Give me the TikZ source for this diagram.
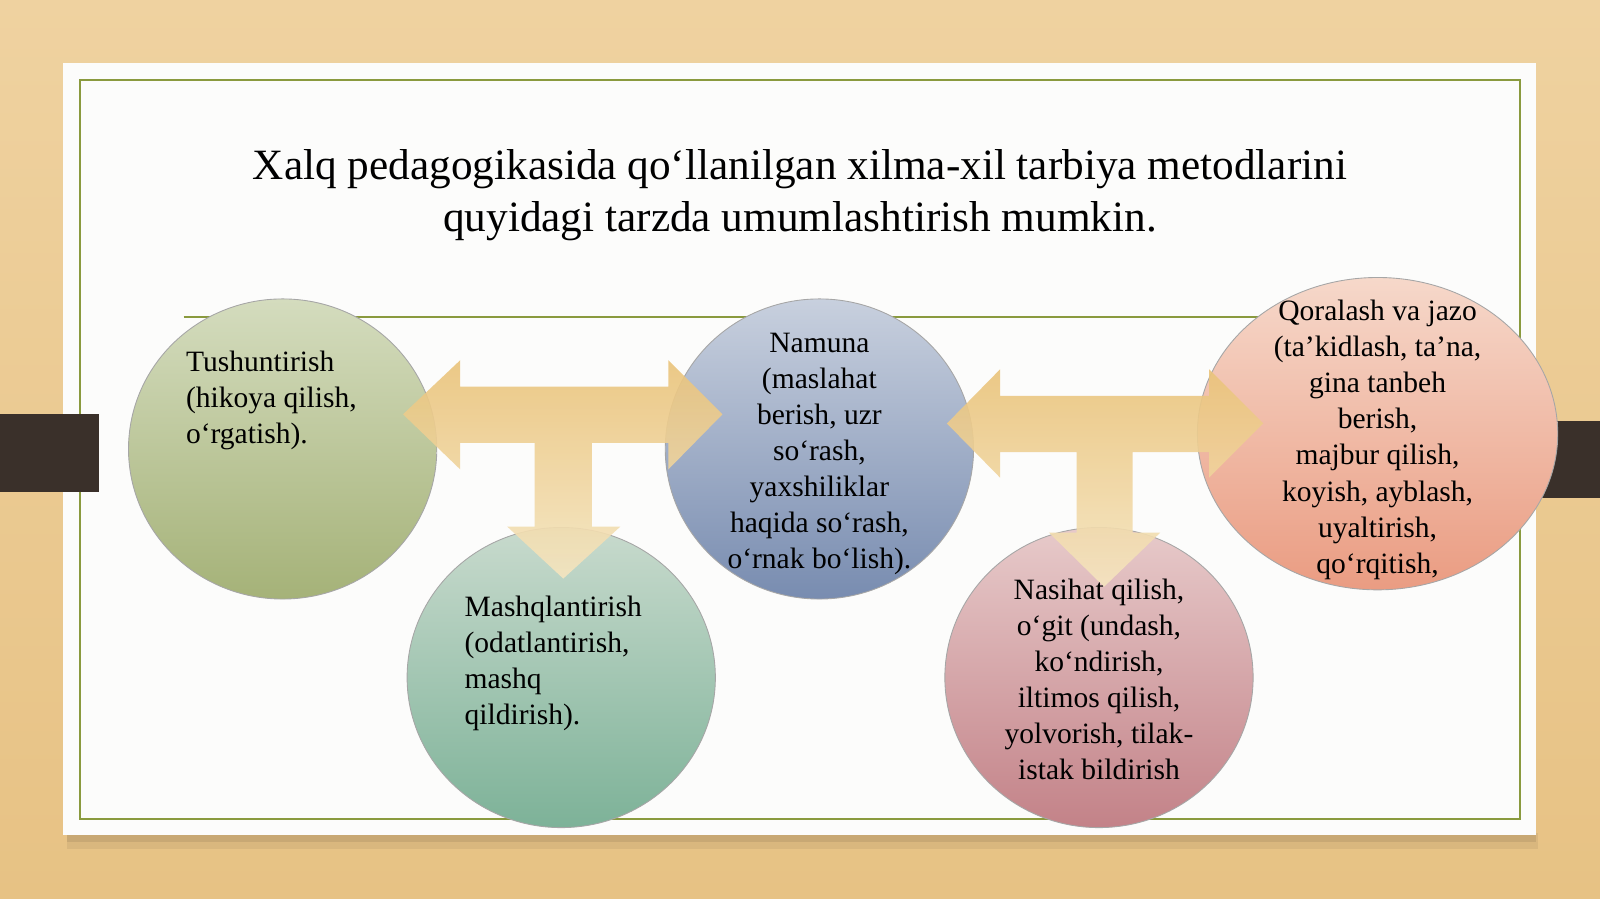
\documentclass[tikz,border=0pt]{standalone}
\usepackage{fontspec}
\setmainfont{Liberation Serif}
\usetikzlibrary{positioning,shapes.geometric}

\definecolor{woodtan}{RGB}{231,194,132}
\definecolor{woodlight}{RGB}{239,210,160}
\definecolor{cardwhite}{RGB}{252,252,251}
\definecolor{frameolive}{RGB}{138,154,62}
\definecolor{darkbar}{RGB}{58,48,42}
\definecolor{arrowtop}{RGB}{234,195,122}
\definecolor{arrowbot}{RGB}{245,229,192}

\begin{document}
\begin{tikzpicture}[x=0.0204082cm, y=-0.0204082cm,
roundnode/.style={ellipse, draw=black!35, line width=0.5pt, minimum width=6.163cm, minimum height=6.0cm, inner sep=0pt},
circtext/.style={inner sep=0pt, font=\fontsize{16.8}{20.5}\selectfont},
blockarrow/.style={top color=arrowtop, bottom color=arrowbot, opacity=0.9}
]
    \useasboundingbox (0,0) rectangle (1568,881);

    %Background
    \shade[top color=woodlight, bottom color=woodtan] (0,0) rectangle (1568,881);
    \fill[black, opacity=0.06] (66,816) rectangle (1507,832);
    \fill[black, opacity=0.08] (66,816) rectangle (1505,825);
    \fill[cardwhite] (62,62) rectangle (1505,818);
    \draw[frameolive, line width=1.1pt] (78,78) rectangle (1490,803);
    \fill[darkbar] (0,406) rectangle (97,482);
    \fill[darkbar] (1510,413) rectangle (1568,488);
    \draw[frameolive, line width=1pt] (180,311) -- (1300,311);

    %Title
    \node[font=\fontsize{24.6}{29.8}\selectfont, align=center, inner sep=0pt]
        (title) at (784,191) {Xalq pedagogikasida qo‘llanilgan xilma-xil tarbiya metodlarini\\quyidagi tarzda umumlashtirish mumkin.};

    %Nodes
    \node[roundnode, top color={rgb,255:red,212;green,220;blue,190}, bottom color={rgb,255:red,165;green,178;blue,120}]
        (tush) at (277,440) {};
    \node[roundnode, top color={rgb,255:red,200;green,218;blue,205}, bottom color={rgb,255:red,125;green,178;blue,152}]
        (mashq) at (550,664) {};
    \node[roundnode, top color={rgb,255:red,200;green,208;blue,222}, bottom color={rgb,255:red,120;green,140;blue,176}]
        (namuna) at (803,440) {};
    \node[roundnode, top color={rgb,255:red,231;green,202;blue,202}, bottom color={rgb,255:red,195;green,130;blue,136}]
        (nasihat) at (1077,664) {};
    \node[ellipse, draw=black!35, line width=0.5pt, minimum width=7.204cm, minimum height=6.245cm, inner sep=0pt,
        top color={rgb,255:red,246;green,216;blue,202}, bottom color={rgb,255:red,234;green,156;blue,130}]
        (qora) at (1350,425) {};

    %Arrows
    \path[blockarrow] (395,406) -- (451,353) -- (451,379) -- (655,379) -- (655,353) -- (708,406)
        -- (655,460) -- (655,434) -- (580,434) -- (580,516) -- (608,516) -- (552,567) -- (497,516)
        -- (524,516) -- (524,434) -- (451,434) -- (451,460) -- cycle;
    \path[blockarrow] (928,415) -- (980,362) -- (980,388) -- (1185,388) -- (1185,362) -- (1238,415)
        -- (1185,468) -- (1185,443) -- (1110,443) -- (1110,522) -- (1137,522) -- (1082,575) -- (1028,522)
        -- (1055,522) -- (1055,443) -- (980,443) -- (980,468) -- cycle;

    %Texts
    \node[circtext, align=left, anchor=north west] (tushtext) at (182,344)
        {Tushuntirish\\(hikoya qilish,\\o‘rgatish).};
    \node[circtext, align=left, anchor=north west] (mashqtext) at (455,584)
        {Mashqlantirish\\(odatlantirish,\\mashq\\qildirish).};
    \node[circtext, align=center, anchor=north] (namunatext) at (803,326)
        {Namuna\\(maslahat\\berish, uzr\\so‘rash,\\yaxshiliklar\\haqida so‘rash,\\o‘rnak bo‘lish).};
    \node[circtext, align=center, anchor=north] (nasihattext) at (1077,567)
        {Nasihat qilish,\\o‘git (undash,\\ko‘ndirish,\\iltimos qilish,\\yolvorish, tilak-\\istak bildirish};
    \node[circtext, align=center, anchor=north] (qoratext) at (1350,294)
        {Qoralash va jazo\\(ta’kidlash, ta’na,\\gina tanbeh\\berish,\\majbur qilish,\\koyish, ayblash,\\uyaltirish,\\qo‘rqitish,};
\end{tikzpicture}
\end{document}
